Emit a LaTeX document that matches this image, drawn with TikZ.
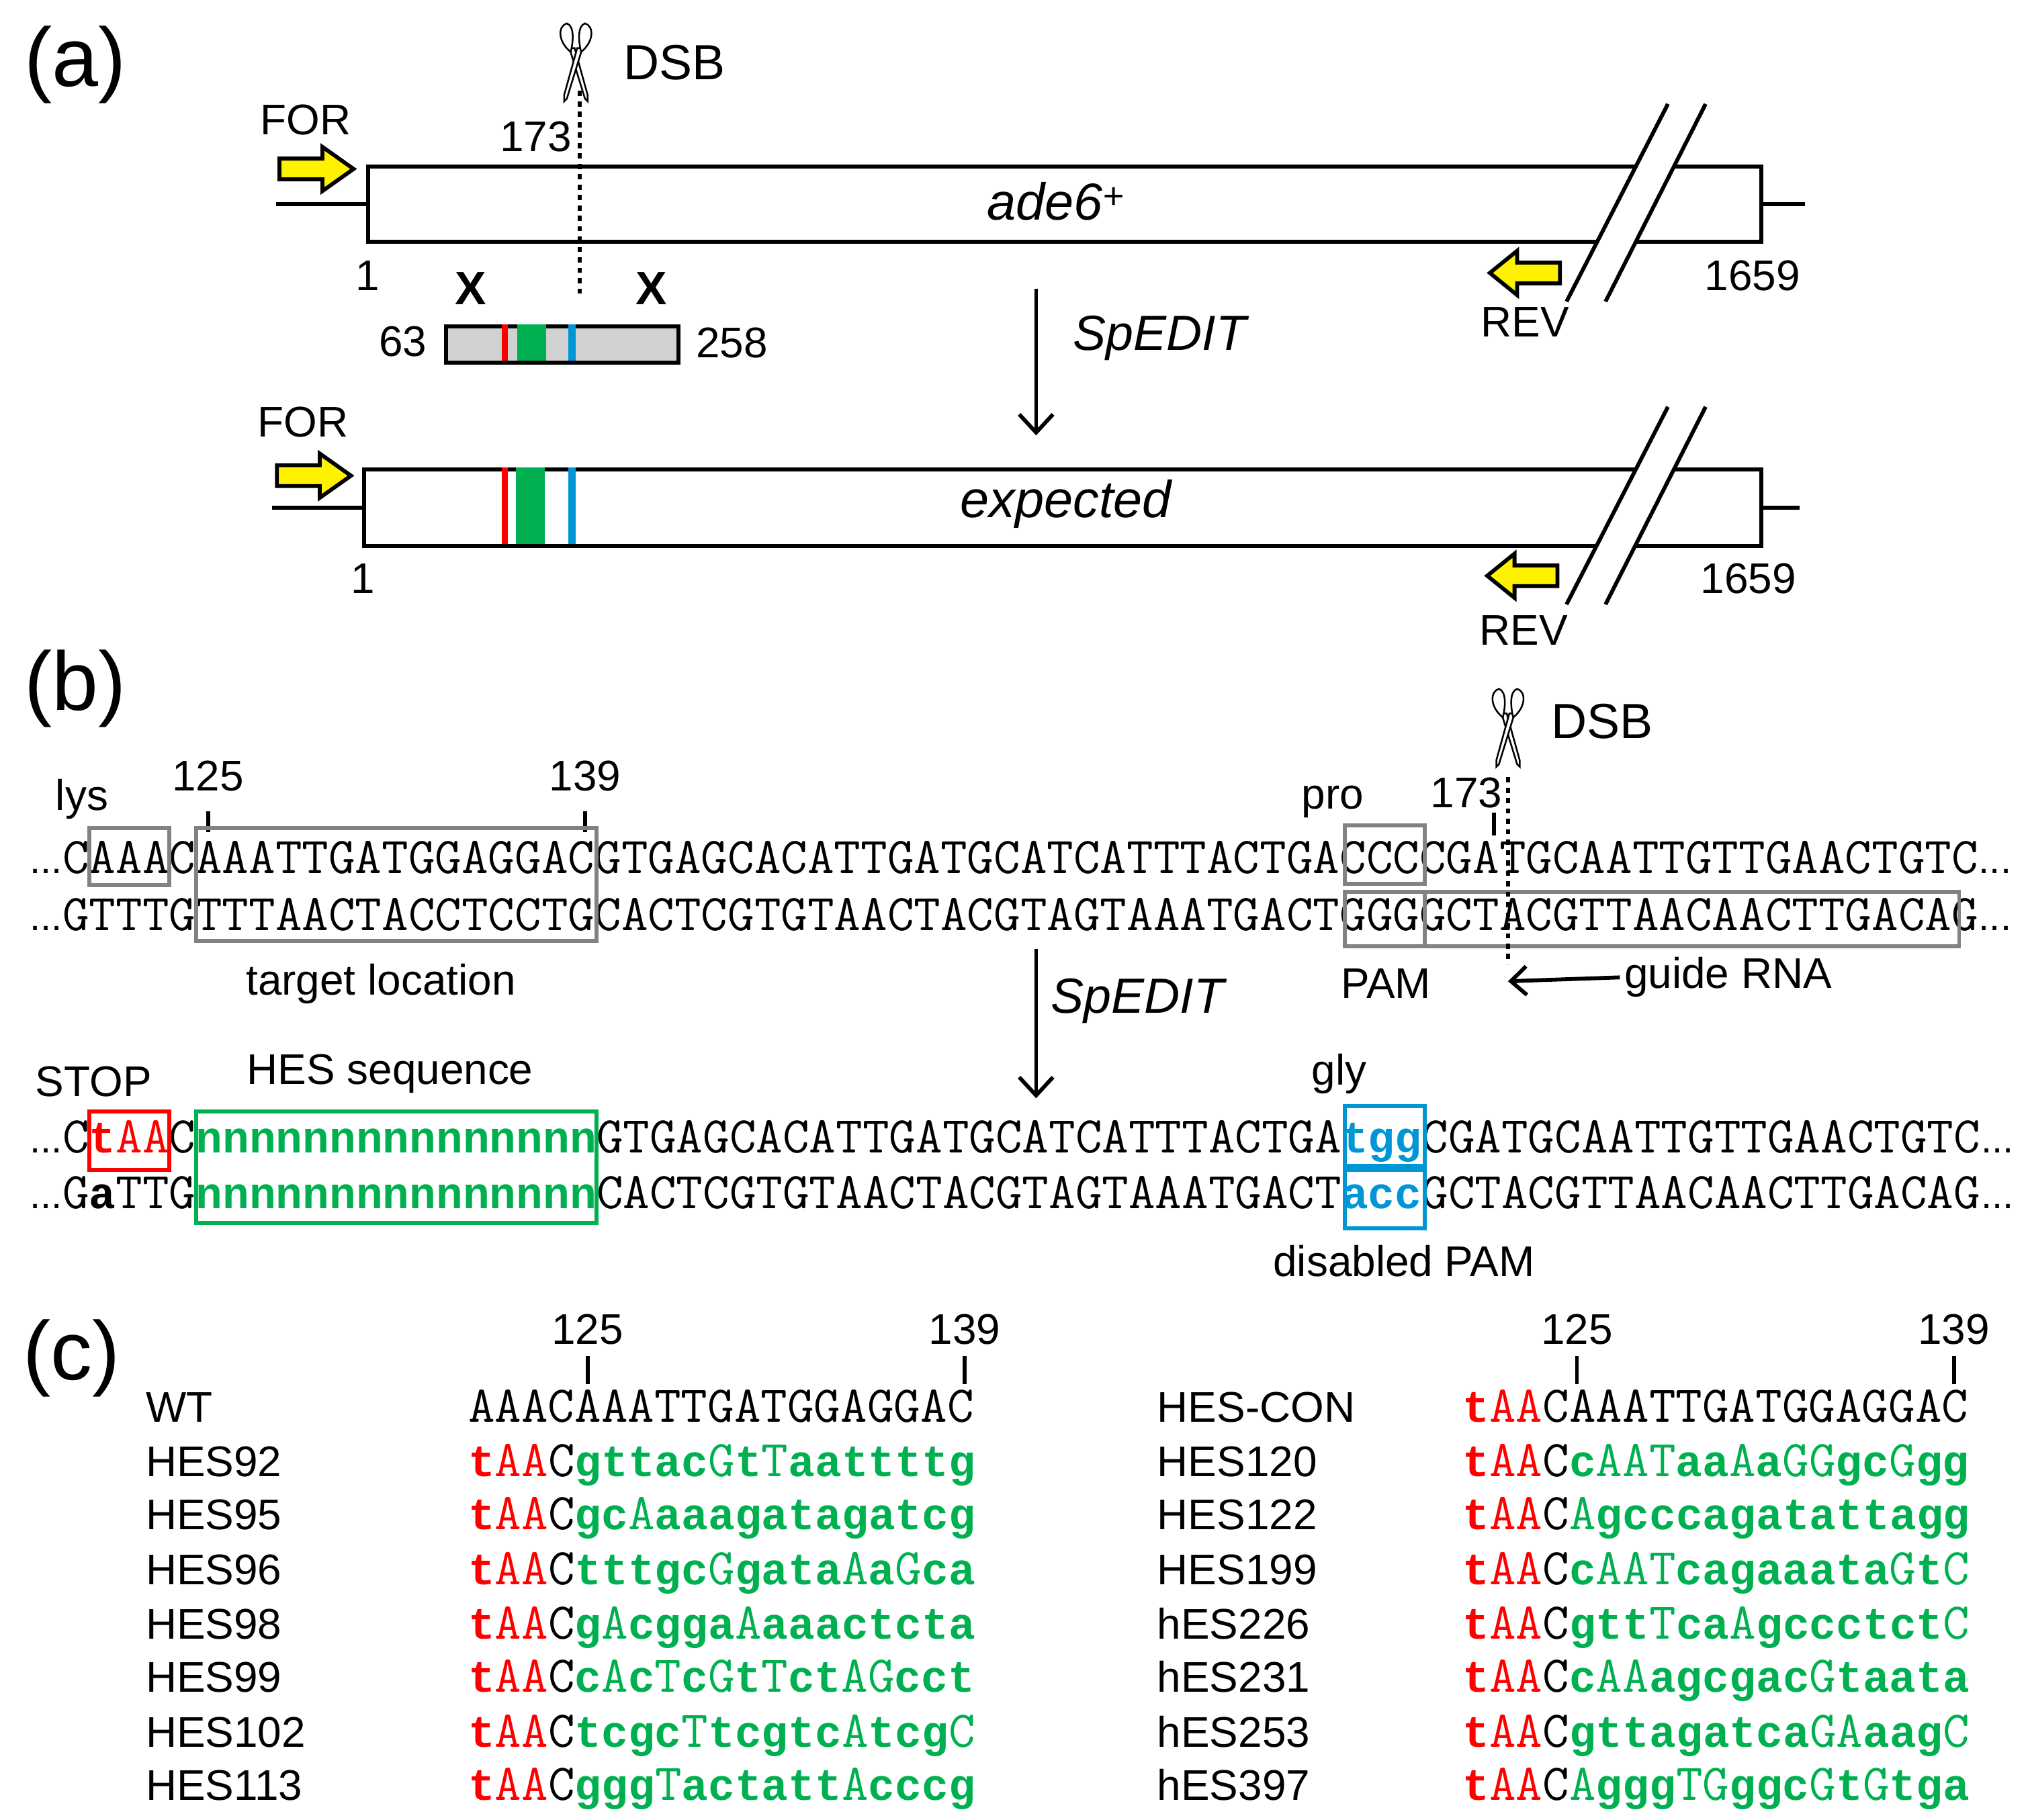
\documentclass[tikz,border=0pt]{standalone}
\usepackage{fontspec}
\setmainfont{Liberation Sans}
\setsansfont{Liberation Sans}
\setmonofont{Latin Modern Mono}
\newfontfamily\lmbold{Liberation Mono Bold}
\definecolor{hred}{RGB}{255,0,0}
\definecolor{hgreen}{RGB}{0,176,80}
\definecolor{hblue}{RGB}{0,150,214}
\definecolor{bgray}{RGB}{130,130,130}
\newcommand\bb[1]{{\lmbold\fontsize{34.25}{40}\selectfont #1}}
\def\seqb#1{\ifx#1\relax\else\seqc{#1}\expandafter\seqb\fi}
\def\seqc#1{\ifnum`#1>96 \bb{#1}\else #1\fi}
\newcommand\Gq[1]{\textcolor{hgreen}{\seqb #1\relax}}
\newcommand\Rq{\textcolor{hred}{\bb{t}AA}C}
\newcommand\Ni{\bb{nnnnnnnnnnnnnnn}}
\usetikzlibrary{arrows.meta}
\begin{document}
\begin{tikzpicture}[x=1pt,y=-1pt,
  lab/.style={font=\fontsize{33}{38}\selectfont},
  big/.style={font=\fontsize{64}{70}\selectfont},
  ital/.style={font=\fontsize{38}{44}\selectfont\itshape},
  seq/.style={font=\fontsize{39.74}{44}\selectfont\ttfamily,anchor=base west,inner sep=0pt},
  dots/.style={font=\fontsize{30}{36}\selectfont,anchor=base east,inner sep=0pt},
  gene/.style={draw=black,line width=3pt,fill=white},
  thick3/.style={line width=3pt},
  yarrow/.style={draw=black,line width=3pt,fill=yellow,line join=miter},
  gbox/.style={draw=bgray,line width=3pt},
  tick/.style={line width=3pt},
  dsb/.style={line width=3pt,dash pattern=on 4pt off 4pt},
  down/.style={line width=3pt,-{Straight Barb[length=14pt,width=26pt]}},
  xmark/.style={font=\fontsize{36}{40}\selectfont\bfseries},
  scis/.pic={
    \draw[line width=1.3pt,fill=white] (-5,19) -- (7,58) -- (9,60) -- (9,55) -- (-1,19) -- cycle;
    \draw[line width=1.3pt,fill=white] (5,19) -- (-7,58) -- (-9,60) -- (-9,55) -- (1,19) -- cycle;
    \draw[line width=1.3pt,fill=white] (-7,0) .. controls (-14,2) and (-14,14) .. (-4,22) .. controls (-2,14) and (-1,2) .. (-7,0) -- cycle;
    \draw[line width=1.3pt,fill=white] (7,0) .. controls (14,2) and (14,14) .. (4,22) .. controls (2,14) and (1,2) .. (7,0) -- cycle;
  }
]
\useasboundingbox (0,0) rectangle (1560,1400);
\def\cw{20.55}
% ================= (a)
\node[big] (la) at (58,50) {(a)};
\pic at (443,18) {scis};
\node[lab,font=\fontsize{38}{44}\selectfont,anchor=west] (dsb1) at (476,48) {DSB};
\node[lab] (for1) at (235,92) {FOR};
\node[lab] (n173a) at (412,105) {173};
\node[gene,minimum width=1072pt,minimum height=58pt,anchor=north west] (ade) at (281.5,126.5) {};
\draw[thick3] (ade.west) -- ++(-69,0);
\draw[thick3] (ade.east) -- ++(32,0);
\node[font=\fontsize{40}{46}\selectfont\itshape] (adet) at (812,155) {ade6\textsuperscript{+}};
\draw[yarrow] (215,122) -- (248,122) -- (248,113) -- (272,130) -- (248,147) -- (248,138) -- (215,138) -- cycle;
\fill[white] (1205,232) -- (1283,80) -- (1312,80) -- (1235,232) -- cycle;
\draw[thick3] (1205,232) -- (1283,80);
\draw[thick3] (1235,232) -- (1312,80);
\draw[yarrow] (1200,202) -- (1167,202) -- (1167,193) -- (1146,210) -- (1167,227) -- (1167,218) -- (1200,218) -- cycle;
\node[lab] (one1) at (283,212) {1};
\node[lab] (e1) at (1348,212) {1659};
\node[lab] (rev1) at (1173,248) {REV};
\draw[dsb] (446,70) -- (446,228);
\node[xmark] (x1) at (362,222) {X};
\node[xmark] (x2) at (501,222) {X};
\node[draw=black,line width=3pt,fill=black!18,minimum width=179pt,minimum height=28pt,anchor=north west,inner sep=0pt] (frag) at (341.5,249.5) {};
\fill[hred] (386,249.5) rectangle (390.5,277.5);
\fill[hgreen] (398,249.5) rectangle (420,277.5);
\fill[hblue] (437,249.5) rectangle (443,277.5);
\node[lab] (n63) at (310,263) {63};
\node[lab] (n258) at (563,264) {258};
\coordinate (sa1) at (797,222);
\coordinate (sa2) at (797,335);
\draw[down] (sa1) -- (sa2);
\node[ital] (sp1) at (892,260) {SpEDIT};
% second gene
\node[lab] (for2) at (233,325) {FOR};
\node[gene,minimum width=1075pt,minimum height=59pt,anchor=north west] (exp) at (278.5,359.5) {};
\draw[thick3] (exp.west) -- ++(-69,0);
\draw[thick3] (exp.east) -- ++(28,0);
\fill[hred] (386,359.5) rectangle (390.5,418.5);
\fill[hgreen] (397,359.5) rectangle (419,418.5);
\fill[hblue] (437,359.5) rectangle (443,418.5);
\node[font=\fontsize{40}{46}\selectfont\itshape] (expt) at (820,388) {expected};
\draw[yarrow] (213,358) -- (246,358) -- (246,349) -- (270,366) -- (246,383) -- (246,374) -- (213,374) -- cycle;
\fill[white] (1205,465) -- (1283,313) -- (1312,313) -- (1235,465) -- cycle;
\draw[thick3] (1205,465) -- (1283,313);
\draw[thick3] (1235,465) -- (1312,313);
\draw[yarrow] (1198,435) -- (1165,435) -- (1165,426) -- (1144,443) -- (1165,460) -- (1165,451) -- (1198,451) -- cycle;
\node[lab] (one2) at (279,445) {1};
\node[lab] (e2) at (1345,445) {1659};
\node[lab] (rev2) at (1172,485) {REV};
% ================= (b)
\node[big] (lb) at (58,530) {(b)};
\pic at (1160,530) {scis};
\node[lab,font=\fontsize{38}{44}\selectfont,anchor=west] (dsb2) at (1190,555) {DSB};
\node[lab] (lys) at (63,615) {lys};
\node[lab] (b125) at (160,597) {125};
\node[lab] (b139) at (450,597) {139};
\node[lab] (pro) at (1025,617) {pro};
\node[lab] (b173) at (1128,610) {173};
\draw[tick] (160,624) -- (160,640);
\draw[tick] (450,624) -- (450,640);
\draw[tick] (1149,625) -- (1149,643);
\node[dots] (d1) at (48,672) {...};
\node[seq] (r1) at (48,672) {CAAACAAATTGATGGAGGACGTGAGCACATTGATGCATCATTTACTGACCCCGATGCAATTGTTGAACTGTC};
\node[dots,anchor=base west] (d1e) at (r1.base east) {...};
\node[dots] (d2) at (48,716) {...};
\node[seq] (r2) at (48,716) {GTTTGTTTAACTACCTCCTGCACTCGTGTAACTACGTAGTAAATGACTGGGGCTACGTTAACAACTTGACAG};
\node[dots,anchor=base west] (d2e) at (r2.base east) {...};
\draw[gbox] ({48+1*\cw},637) rectangle ({48+4*\cw},681);
\draw[gbox] ({48+5*\cw},637) rectangle ({48+20*\cw},724);
\draw[gbox] ({48+48*\cw},635) rectangle ({48+51*\cw},680);
\draw[gbox] ({48+48*\cw},686) rectangle ({48+51*\cw},728);
\draw[gbox] ({48+51*\cw},686) rectangle ({48+71*\cw},728);
\draw[dsb] (1160,598) -- (1160,742);
\node[lab] (tl) at (293,757) {target location};
\node[lab] (pam) at (1066,757) {PAM};
\node[lab,anchor=west] (grna) at (1246,752) {guide RNA};
\coordinate (gr) at (1160,755);
\draw[line width=3pt,-{Straight Barb[length=12pt,width=22pt]}] (grna.west) -- (gr);
\coordinate (sb1) at (797,730);
\coordinate (sb2) at (797,845);
\draw[down] (sb1) -- (sb2);
\node[ital] (sp2) at (875,770) {SpEDIT};
\node[lab] (stop) at (72,832) {STOP};
\node[lab] (hes) at (300,826) {HES sequence};
\node[lab] (gly) at (1030,826) {gly};
\node[dots] (d3) at (48,887) {...};
\node[seq] (r3) at (48,887) {C\textcolor{hred}{\bb{t}AA}C\textcolor{hgreen}{\Ni}GTGAGCACATTGATGCATCATTTACTGA\textcolor{hblue}{\bb{tgg}}CGATGCAATTGTTGAACTGTC};
\node[dots,anchor=base west] (d3e) at (r3.base east) {...};
\node[dots] (d4) at (48,930) {...};
\node[seq] (r4) at (48,930) {G\bb{a}TTG\textcolor{hgreen}{\Ni}CACTCGTGTAACTACGTAGTAAATGACT\textcolor{hblue}{\bb{acc}}GCTACGTTAACAACTTGACAG};
\node[dots,anchor=base west] (d4e) at (r4.base east) {...};
\draw[hred,line width=3pt] ({48+1*\cw},855) rectangle ({48+4*\cw},900);
\draw[hgreen,line width=3pt] ({48+5*\cw},855) rectangle ({48+20*\cw},941);
\draw[hblue,line width=3pt] ({48+48*\cw},851) rectangle ({48+51*\cw},897);
\draw[hblue,line width=3pt] ({48+48*\cw},900) rectangle ({48+51*\cw},945);
\node[lab] (dpam) at (1080,970) {disabled PAM};
% ================= (c)
\node[big] (lc) at (55,1045) {(c)};
\node[lab] (c125) at (452,1023) {125};
\node[lab] (c139) at (742,1023) {139};
\node[lab] (c125b) at (1213,1023) {125};
\node[lab] (c139b) at (1503,1023) {139};
\draw[tick] (452,1043) -- (452,1065);
\draw[tick] (742,1043) -- (742,1065);
\draw[tick] (1213,1043) -- (1213,1065);
\draw[tick] (1503,1043) -- (1503,1065);
\begin{scope}[every node/.append style={lab,anchor=base west,inner sep=0pt}]
\node (nwt) at (112,1094) {WT};
\node (n92) at (112,1136) {HES92};
\node (n95) at (112,1177) {HES95};
\node (n96) at (112,1219) {HES96};
\node (n98) at (112,1261) {HES98};
\node (n99) at (112,1302) {HES99};
\node (n102) at (112,1344) {HES102};
\node (n113) at (112,1385) {HES113};
\node (ncon) at (890,1094) {HES-CON};
\node (n120) at (890,1136) {HES120};
\node (n122) at (890,1177) {HES122};
\node (n199) at (890,1219) {HES199};
\node (n226) at (890,1261) {hES226};
\node (n231) at (890,1302) {hES231};
\node (n253) at (890,1344) {hES253};
\node (n397) at (890,1385) {hES397};
\end{scope}
\node[seq] (swt) at (360,1094) {AAACAAATTGATGGAGGAC};
\node[seq] (s92) at (360,1136) {\Rq\Gq{gttacGtTaattttg}};
\node[seq] (s95) at (360,1177) {\Rq\Gq{gcAaaagatagatcg}};
\node[seq] (s96) at (360,1219) {\Rq\Gq{tttgcGgataAaGca}};
\node[seq] (s98) at (360,1261) {\Rq\Gq{gAcggaAaaactcta}};
\node[seq] (s99) at (360,1302) {\Rq\Gq{cAcTcGtTctAGcct}};
\node[seq] (s102) at (360,1344) {\Rq\Gq{tcgcTtcgtcAtcgC}};
\node[seq] (s113) at (360,1385) {\Rq\Gq{gggTactattAcccg}};
\node[seq] (scon) at (1125,1094) {\Rq AAATTGATGGAGGAC};
\node[seq] (s120) at (1125,1136) {\Rq\Gq{cAATaaAaGGgcGgg}};
\node[seq] (s122) at (1125,1177) {\Rq\Gq{Agcccagatattagg}};
\node[seq] (s199) at (1125,1219) {\Rq\Gq{cAATcagaaataGtC}};
\node[seq] (s226) at (1125,1261) {\Rq\Gq{gttTcaAgccctctC}};
\node[seq] (s231) at (1125,1302) {\Rq\Gq{cAAagcgacGtaata}};
\node[seq] (s253) at (1125,1344) {\Rq\Gq{gttagatcaGAaagC}};
\node[seq] (s397) at (1125,1385) {\Rq\Gq{AgggTGggcGtGtga}};
\end{tikzpicture}
\end{document}
